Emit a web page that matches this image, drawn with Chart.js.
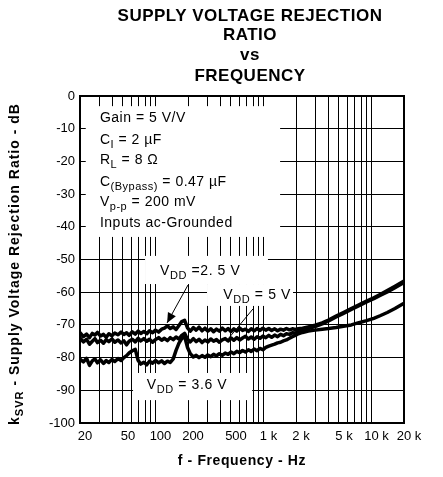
<!DOCTYPE html>
<html><head><meta charset="utf-8">
<script src="https://cdn.jsdelivr.net/npm/chart.js@4.4.0/dist/chart.umd.min.js"></script>
<style>html,body{margin:0;padding:0;background:#fff}</style>
</head><body>
<canvas id="c" width="443" height="477"></canvas>
<script>
// ---- data ----
const freqs = [20,21.5,23,24.5,26,27.5,29,31,33,35,
  37,39.5,42,45,48,51,54,57,61,65,
  69,73,78,83,88,94,100,107,114,121,
  129,137,146,155,165,175,186,198,210,224,
  238,253,270,287,305,325,345,367,390,415,
  442,470,500,532,566,602,640,681,724,770,
  820,872,928,987,1050,1120,1190,1270,1350,1440,
  1530,1630,1740,1850,1970,2100,2300,2600,3000,3500,
  4000,4700,5500,6500,7500,9000,10500,12000,14000,16500,
  20000];
const svrVdd25 = [-72.4,-73.6,-72.8,-73.9,-72.6,-73.1,-72.3,-73.4,-72.9,-73.8,
  -72.7,-73.3,-72.5,-73.0,-72.2,-72.9,-72.4,-73.2,-72.1,-72.8,
  -71.9,-72.6,-72.0,-72.7,-71.8,-72.4,-71.6,-72.2,-71.3,-71.0,
  -70.3,-71.1,-70.6,-71.4,-70.2,-69.0,-68.6,-70.9,-71.9,-70.8,
  -71.6,-70.7,-71.8,-71.0,-71.9,-71.2,-72.1,-71.3,-71.9,-71.0,
  -71.8,-71.1,-72.0,-71.2,-71.9,-71.0,-71.7,-71.3,-72.0,-71.2,
  -71.8,-71.1,-71.7,-71.0,-71.6,-71.1,-71.7,-71.2,-71.8,-71.3,
  -71.6,-71.1,-71.5,-71.2,-71.4,-71.2,-71.0,-70.6,-70.1,-69.4,
  -68.5,-67.3,-66.2,-65.0,-64.0,-62.7,-61.7,-60.7,-59.5,-58.2,
  -56.6];
const svrVdd5 = [-74.0,-75.2,-74.4,-75.9,-75.0,-74.2,-75.4,-74.7,-75.6,-74.5,
  -75.1,-74.3,-75.3,-74.6,-75.5,-74.9,-76.1,-75.0,-74.4,-75.2,
  -74.1,-74.9,-74.2,-75.0,-74.4,-75.3,-74.5,-73.9,-74.7,-74.1,
  -74.8,-73.9,-74.5,-73.7,-74.3,-73.2,-72.6,-74.4,-75.2,-74.2,
  -75.1,-74.4,-75.4,-74.6,-75.2,-74.3,-75.0,-74.5,-75.3,-74.6,
  -74.2,-74.9,-74.0,-74.7,-73.9,-74.6,-74.0,-73.5,-74.3,-73.7,
  -74.4,-73.6,-74.1,-73.4,-73.9,-73.2,-73.8,-73.1,-73.6,-72.9,
  -73.3,-72.7,-72.9,-72.4,-72.5,-72.0,-71.6,-71.1,-70.5,-69.7,
  -68.8,-67.6,-66.5,-65.3,-64.3,-63.0,-62.0,-61.0,-59.9,-58.6,
  -57.0];
const svrVdd36 = [-80.5,-81.3,-80.2,-82.4,-81.0,-80.4,-81.6,-80.7,-81.8,-80.9,
  -81.5,-80.6,-81.2,-80.3,-80.9,-80.0,-79.4,-78.6,-77.9,-77.5,
  -80.8,-82.0,-81.4,-82.2,-81.1,-81.7,-80.9,-81.6,-81.0,-81.8,
  -81.1,-81.5,-80.4,-77.8,-75.6,-74.2,-73.5,-76.9,-78.8,-79.8,
  -79.3,-80.0,-79.4,-79.9,-79.2,-79.7,-79.0,-79.5,-78.8,-79.3,
  -78.6,-79.0,-78.3,-78.8,-78.1,-78.5,-77.8,-78.3,-77.6,-78.1,
  -77.4,-77.9,-77.2,-77.6,-76.9,-76.5,-76.2,-75.9,-75.5,-75.3,
  -74.9,-74.6,-74.1,-73.6,-73.2,-72.7,-72.3,-71.9,-71.6,-71.3,
  -71.1,-70.8,-70.4,-70.0,-69.4,-68.7,-68.0,-67.2,-66.2,-65.0,
  -63.4];
const yTickValues = [0,-10,-20,-30,-40,-50,-60,-70,-80,-90,-100];
const xGridValues = [20,30,40,50,60,70,80,90,100,200,300,400,500,600,700,800,900,1000,2000,3000,4000,5000,6000,7000,8000,9000,10000,20000];
const xLabelValues = [20,50,100,200,500,1000,2000,5000,10000,20000];
const xLabelTexts = ['20','50','100','200','500','1 k','2 k','5 k','10 k','20 k'];
const titleLines = ['SUPPLY VOLTAGE REJECTION','RATIO','vs','FREQUENCY'];

// ---- annotations (in data coordinates) ----
const FONT = '"Liberation Sans", Arial, sans-serif';
const boxes = [
  {f0:22.6, f1:1425, d0:-3.1, d1:-43.1},
  {f0:80, f1:1100, d0:-48.9, d1:-57.5},
  {f0:300, f1:1876, d0:-57.5, d1:-64.2},
  {f0:62, f1:785, d0:-84.7, d1:-93}
];
const condLines = [
  [['Gain = 5 V/V',0]],
  [['C',0],['I',1],[' = 2 \u00B5F',0]],
  [['R',0],['L',1],[' = 8 \u03A9',0]],
  [['C',0],['(Bypass)',1],[' = 0.47 \u00B5F',0]],
  [['V',0],['p-p',1],[' = 200 mV',0]],
  [['Inputs ac-Grounded',0]]
];
const condDb = [-6.7,-13.5,-19.6,-26.3,-32.4,-38.8];
const vddLabels = [
  {f:110, d:-53.5, parts:[['V',0],['DD',1],[' =2. 5 V',0]]},
  {f:425, d:-60.9, parts:[['V',0],['DD',1],[' = 5 V',0]]},
  {f:83, d:-88.4, parts:[['V',0],['DD',1],[' = 3.6 V',0]]}
];
const arrows = [
  {f0:200, d0:-57.8, f1:128, d1:-69.4, head:true},
  {f0:800, d0:-65.1, f1:478, d1:-74.0, head:false}
];

function setSpacing(ctx, s){ if ('letterSpacing' in ctx) ctx.letterSpacing = s + 'px'; }
function drawParts(ctx, parts, x, y, size, bold, sp){
  const w = bold ? 'bold ' : '';
  let cx = x;
  ctx.textBaseline = 'middle';
  ctx.textAlign = 'left';
  setSpacing(ctx, sp || 0);
  for (const [t, sub] of parts){
    if (sub){ ctx.font = w + Math.round(size*0.8) + 'px ' + FONT; ctx.fillText(t, cx, y + size*0.35); }
    else { ctx.font = w + size + 'px ' + FONT; ctx.fillText(t, cx, y); }
    cx += ctx.measureText(t).width;
  }
  setSpacing(ctx, 0);
  return cx - x;
}
function partsWidth(ctx, parts, size, bold, sp){
  const w = bold ? 'bold ' : '';
  let tot = 0;
  setSpacing(ctx, sp || 0);
  for (const [t, sub] of parts){
    ctx.font = w + (sub ? Math.round(size*0.8) : size) + 'px ' + FONT;
    tot += ctx.measureText(t).width;
  }
  setSpacing(ctx, 0);
  return tot;
}

const deco = {
  id:'deco',
  beforeDatasetsDraw(chart){
    const {ctx, scales:{x, y}} = chart;
    ctx.save();
    ctx.fillStyle = '#fff';
    for (const b of boxes){
      const px0 = x.getPixelForValue(b.f0), px1 = x.getPixelForValue(b.f1);
      const py0 = y.getPixelForValue(b.d0), py1 = y.getPixelForValue(b.d1);
      ctx.fillRect(px0, py0, px1-px0, py1-py0);
    }
    ctx.restore();
  },
  afterDatasetsDraw(chart){
    const {ctx, chartArea:a, scales:{x, y}} = chart;
    ctx.save();
    ctx.strokeStyle = '#000'; ctx.lineWidth = 2;
    ctx.strokeRect(a.left, a.top, a.right-a.left, a.bottom-a.top);
    ctx.fillStyle = '#000';
    condLines.forEach((ln, i) => drawParts(ctx, ln, x.getPixelForValue(30.6), y.getPixelForValue(condDb[i]), 14, false, 0.5));
    vddLabels.forEach(l => drawParts(ctx, l.parts, x.getPixelForValue(l.f), y.getPixelForValue(l.d), 14, false, 0.6));
    ctx.lineWidth = 1;
    for (const ar of arrows){
      const x0 = x.getPixelForValue(ar.f0), y0 = y.getPixelForValue(ar.d0);
      const x1 = x.getPixelForValue(ar.f1), y1 = y.getPixelForValue(ar.d1);
      ctx.beginPath(); ctx.moveTo(x0, y0); ctx.lineTo(x1, y1); ctx.stroke();
      if (ar.head){
        const ang = Math.atan2(y1-y0, x1-x0), L = 10, W = 4.5;
        ctx.beginPath();
        ctx.moveTo(x1, y1);
        ctx.lineTo(x1 - L*Math.cos(ang) + W*Math.sin(ang), y1 - L*Math.sin(ang) - W*Math.cos(ang));
        ctx.lineTo(x1 - L*Math.cos(ang) - W*Math.sin(ang), y1 - L*Math.sin(ang) + W*Math.cos(ang));
        ctx.closePath(); ctx.fill();
      }
    }
    const cxm = (a.left + a.right)/2;
    ctx.textAlign = 'center'; ctx.textBaseline = 'middle';
    ctx.font = 'bold 17px ' + FONT;
    setSpacing(ctx, 0.5);
    const ty = [16, 35, 55, 76];
    titleLines.forEach((t, i) => ctx.fillText(t, cxm + 8, ty[i]));
    ctx.font = 'bold 14px ' + FONT;
    setSpacing(ctx, 0.6);
    ctx.fillText('f - Frequency - Hz', cxm, 461);
    setSpacing(ctx, 0);
    const yparts = [['k',0],['SVR',1],[' - Supply Voltage Rejection Ratio - dB',0]];
    const tw = partsWidth(ctx, yparts, 14, true, 1);
    ctx.translate(17, 264);
    ctx.rotate(-Math.PI/2);
    drawParts(ctx, yparts, -tw/2, -2, 14, true, 1);
    ctx.restore();
  }
};

const mk = (vals) => freqs.map((f, i) => ({x: f, y: vals[i]}));
const ds = (label, vals) => ({label, data: mk(vals), borderColor:'#000', borderWidth:3.5, pointRadius:0, tension:0, fill:false, borderJoinStyle:'round', borderCapStyle:'round'});

new Chart(document.getElementById('c'), {
  type:'line',
  data:{datasets:[ds('VDD = 2.5 V', svrVdd25), ds('VDD = 5 V', svrVdd5), ds('VDD = 3.6 V', svrVdd36)]},
  options:{
    responsive:false, animation:false, devicePixelRatio:1,
    layout:{padding:{top:96, right:39, left:0, bottom:0}},
    plugins:{legend:{display:false}, tooltip:{enabled:false}, title:{display:false}},
    scales:{
      x:{type:'logarithmic', min:20, max:20000,
        afterBuildTicks:s => { s.ticks = xGridValues.map(v => ({value:v})); },
        afterFit:s => { s.height = 54; },
        ticks:{autoSkip:false, maxRotation:0, minRotation:0, padding:6, labelOffset:5, color:'#000',
          font:{family:FONT, size:13},
          callback:(v) => { const k = xLabelValues.indexOf(v); return k >= 0 ? xLabelTexts[k] : ''; }},
        grid:{color:'#000', lineWidth:1, drawTicks:false},
        border:{color:'#000', width:2}
      },
      y:{min:-100, max:0,
        afterBuildTicks:s => { s.ticks = yTickValues.map(v => ({value:v})); },
        afterFit:s => { s.width = 80; },
        ticks:{padding:5, color:'#000', font:{family:FONT, size:13}, callback:(v) => String(v)},
        grid:{color:'#000', lineWidth:1, drawTicks:false},
        border:{color:'#000', width:2}
      }
    }
  },
  plugins:[deco]
});
</script>
</body></html>
